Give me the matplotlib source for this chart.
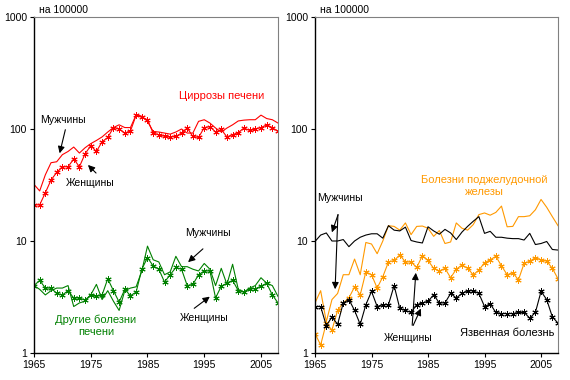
import matplotlib
matplotlib.use("Agg")
import matplotlib.pyplot as plt
import numpy as np

plt.rcParams['font.family'] = ['Liberation Sans', 'DejaVu Sans']

years = np.arange(1965, 2009)

# циррозы печени
cirr_men = [32, 28, 39, 50, 51, 59, 63, 69, 61, 68, 74, 79, 85, 94, 103, 109, 103, 103, 134, 130, 117,
            95, 94, 92, 90, 94, 100, 92, 92, 117, 121, 113, 102, 94, 102, 109, 118, 120, 121, 121, 133, 124, 121, 113]
cirr_women = [21, 21, 27, 35, 41, 46, 46, 54, 46, 60, 71, 63, 77, 84, 103, 100, 92, 96, 133, 127,
              121, 92, 89, 86, 85, 86, 92, 102, 86, 84, 103, 105, 94, 99, 85, 89, 93, 102, 97, 100,
              103, 109, 103, 95]

# другие болезни печени
liver_men = [4.0, 3.7, 3.3, 3.6, 3.8, 3.8, 4.0, 2.6, 2.8, 2.9, 3.3, 4.1, 3.0, 3.6, 2.9, 2.4, 3.6, 3.8, 3.9, 5.4,
             9.0, 6.8, 6.5, 5.0, 5.3, 7.3, 5.9, 5.9, 5.6, 5.4, 6.3, 5.6, 4.0, 5.7, 4.1, 6.2, 3.7, 3.5, 3.8, 4.0,
             4.7, 4.2, 4.0, 3.2]
liver_women = [4.0, 4.45, 3.8, 3.8, 3.4, 3.3, 3.6, 3.1, 3.1, 2.97, 3.3, 3.2, 3.3, 4.6, 3.6, 2.85, 3.7, 3.25, 3.5, 5.6,
               7.1, 6.0, 5.6, 4.3, 5.0, 5.8, 5.6, 4.0, 4.1, 5.0, 5.4, 5.4, 3.1, 3.95, 4.2, 4.45, 3.6, 3.5, 3.75, 3.75,
               3.95, 4.2, 3.3, 2.8]

# болезни поджелудочной железы
panc_men = [2.8, 3.6, 1.9, 3.0, 3.4, 5.0, 5.0, 6.9, 5.0, 9.7, 9.4, 7.7, 10.0, 13.7, 13.5, 12.5, 14.5, 11.4, 13.5, 13.6,
            13.0, 11.0, 12.4, 9.5, 9.8, 14.5, 13.0, 12.5, 14.0, 17.2, 17.8, 17.0, 18.0, 20.5, 13.4, 13.5, 16.5, 16.5, 16.8, 19.0,
            23.5, 20.0, 16.5, 13.7]
panc_women = [1.49, 1.18, 1.85, 1.6, 2.4, 2.8, 3.1, 3.9, 3.3, 5.3, 5.0, 3.8, 4.8, 6.5, 6.7, 7.5, 6.5, 6.5, 5.8, 7.4,
              6.7, 5.7, 5.4, 5.7, 4.7, 5.6, 6.1, 5.7, 5.0, 5.5, 6.4, 6.8, 7.3, 6.0, 5.0, 5.2, 4.5, 6.3, 6.6, 7.1,
              6.8, 6.6, 5.7, 4.6]

# язвенная болезнь
ulcer_men = [9.9, 11.3, 11.8, 10.0, 10.0, 10.3, 8.9, 10.0, 10.8, 11.3, 11.6, 11.6, 10.6, 13.7, 12.5, 12.3, 13.3, 10.1, 9.8, 9.6,
             13.4, 12.3, 11.5, 12.7, 11.8, 10.3, 12.0, 13.5, 15.0, 16.5, 11.7, 12.2, 10.8, 10.8, 10.6, 10.5, 10.5, 10.2, 11.7, 9.3,
             9.5, 9.9, 8.4, 8.3]
ulcer_women = [2.6, 2.6, 1.75, 2.1, 1.8, 2.8, 3.0, 2.4, 1.8, 2.7, 3.55, 2.6, 2.7, 2.7, 4.0, 2.5, 2.4, 2.3, 2.7, 2.8,
               2.9, 3.3, 2.8, 2.8, 3.4, 3.1, 3.4, 3.6, 3.6, 3.4, 2.6, 2.75, 2.3, 2.25, 2.25, 2.25, 2.3, 2.3, 2.05, 2.3,
               3.55, 3.0, 2.1, 1.85]

xticks = [1965, 1975, 1985, 1995, 2005]
yticks = [1, 10, 100, 1000]

star = (6, 2, 0)
lw = 0.8
fs = 7.5
ms = 4.5
mew = 0.7

fig = plt.figure(figsize=(5.7, 3.8), dpi=100)
ax1 = fig.add_axes([34 / 570, 1 - 353 / 380, 244 / 570, 336 / 380])
ax2 = fig.add_axes([315 / 570, 1 - 353 / 380, 243 / 570, 336 / 380])


def style(ax):
    ax.set_yscale('log')
    ax.set_xlim(1965, 2008)
    ax.set_ylim(1, 1000)
    ax.set_xticks(xticks)
    ax.set_xticklabels([str(t) for t in xticks])
    ax.set_yticks(yticks)
    ax.set_yticklabels([str(t) for t in yticks])
    ax.yaxis.set_minor_locator(matplotlib.ticker.NullLocator())
    ax.tick_params(axis='both', direction='out', length=3, width=0.8, labelsize=fs, pad=2)
    for s in ['top', 'right']:
        ax.spines[s].set_color('#808080')
        ax.spines[s].set_linewidth(0.8)
    for s in ['left', 'bottom']:
        ax.spines[s].set_color('black')
        ax.spines[s].set_linewidth(1.0)
    ax.text(0.02, 1.005, 'на 100000', transform=ax.transAxes, fontsize=fs, va='bottom', ha='left')


def arrow(ax, xy, xytext):
    ax.annotate('', xy=xy, xytext=xytext, xycoords='figure pixels', textcoords='figure pixels',
                arrowprops=dict(arrowstyle='-|>', color='black', lw=0.8, mutation_scale=10))


H = 380

# left panel
style(ax1)
ax1.plot(years, cirr_men, color='red', lw=lw)
ax1.plot(years, cirr_women, color='red', lw=lw, marker=star, markersize=ms, markeredgewidth=mew)
ax1.plot(years, liver_men, color='green', lw=lw)
ax1.plot(years, liver_women, color='green', lw=lw, marker=star, markersize=ms, markeredgewidth=mew)

fig.text(222 / 570, 1 - 96 / H, 'Циррозы печени', color='red', fontsize=8, ha='center', va='center')
fig.text(63 / 570, 1 - 120 / H, 'Мужчины', fontsize=fs, ha='center', va='center')
fig.text(90 / 570, 1 - 183 / H, 'Женщины', fontsize=fs, ha='center', va='center')
arrow(ax1, (59, H - 156), (66, H - 127))
arrow(ax1, (86, H - 163), (98, H - 175))

fig.text(96 / 570, 1 - 326 / H, 'Другие болезни\nпечени', color='green', fontsize=8, ha='center',
         va='center', linespacing=1.3)
fig.text(208 / 570, 1 - 233 / H, 'Мужчины', fontsize=fs, ha='center', va='center')
fig.text(204 / 570, 1 - 318 / H, 'Женщины', fontsize=fs, ha='center', va='center')
arrow(ax1, (186, H - 264), (205, H - 247))
arrow(ax1, (212, H - 295), (192, H - 310))

# right panel
style(ax2)
ax2.plot(years, panc_men, color='#FF9900', lw=lw)
ax2.plot(years, panc_women, color='#FF9900', lw=lw, marker=star, markersize=ms, markeredgewidth=mew)
ax2.plot(years, ulcer_men, color='black', lw=lw)
ax2.plot(years, ulcer_women, color='black', lw=lw, marker=star, markersize=ms, markeredgewidth=mew)

fig.text(484 / 570, 1 - 186 / H, 'Болезни поджелудочной\nжелезы', color='#FF9900', fontsize=8,
         ha='center', va='center', linespacing=1.3)
fig.text(340 / 570, 1 - 198 / H, 'Мужчины', fontsize=fs, ha='center', va='center')
arrow(ax2, (331, H - 235), (339, H - 212))
arrow(ax2, (335, H - 292), (338, H - 212))
fig.text(408 / 570, 1 - 338 / H, 'Женщины', fontsize=fs, ha='center', va='center')
arrow(ax2, (416, H - 270), (412, H - 328))
arrow(ax2, (422, H - 306), (412, H - 328))
fig.text(507 / 570, 1 - 333 / H, 'Язвенная болезнь', fontsize=8, ha='center', va='center')

fig.savefig('out.png', dpi=100)
